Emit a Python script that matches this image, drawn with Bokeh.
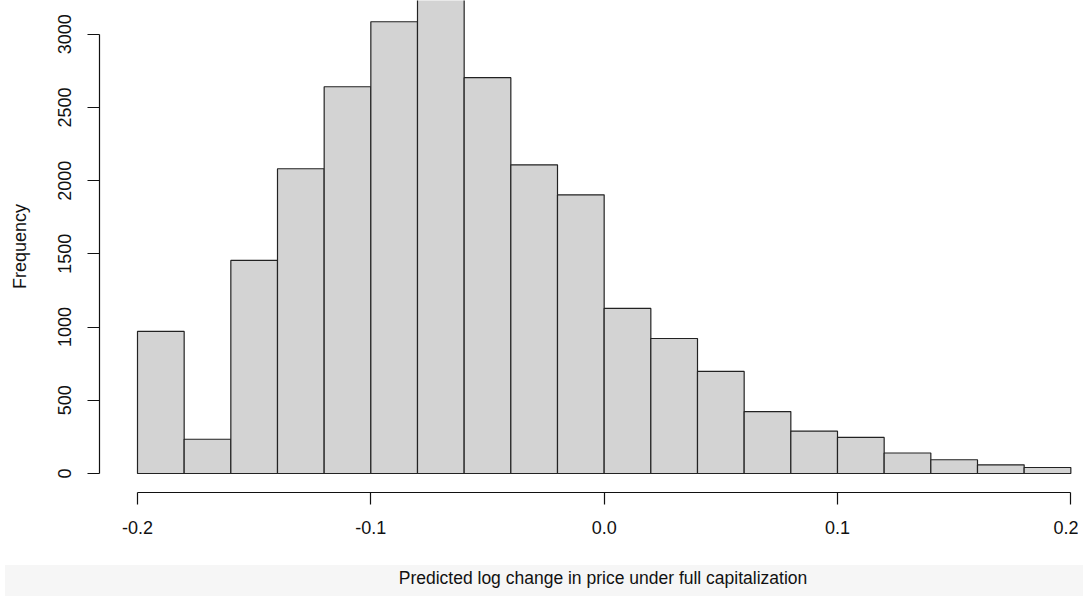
from bokeh.plotting import figure
from bokeh.models import FixedTicker, Div, ColumnDataSource, Range1d
from bokeh.layouts import column
from bokeh.embed import file_html
from bokeh.resources import INLINE

# ---- data ----
bin_edges = [-0.20, -0.18, -0.16, -0.14, -0.12, -0.10, -0.08, -0.06, -0.04, -0.02,
             0.00, 0.02, 0.04, 0.06, 0.08, 0.10, 0.12, 0.14, 0.16, 0.18, 0.20]
counts = [970, 234, 1455, 2081, 2641, 3085, 3300, 2703, 2108, 1903,
          1127, 922, 697, 423, 289, 246, 140, 94, 59, 41]
x_ticks = [-0.2, -0.1, 0.0, 0.1, 0.2]
x_tick_labels = ["-0.2", "-0.1", "0.0", "0.1", "0.2"]
y_ticks = [0, 500, 1000, 1500, 2000, 2500, 3000]
x_title = "Predicted log change in price under full capitalization"
y_title = "Frequency"

FONT = "Liberation Sans"

src = ColumnDataSource(dict(left=bin_edges[:-1], right=bin_edges[1:], top=counts,
                            bottom=[0] * len(counts)))

p = figure(width=1078, height=560, output_backend="svg", toolbar_location=None,
           x_range=Range1d(-0.216286, 0.203286), y_range=Range1d(-129.8, 3230.1),
           min_border_left=99, min_border_right=0, min_border_top=0, min_border_bottom=68)
p.outline_line_color = None
p.grid.visible = False
p.background_fill_color = "white"
p.border_fill_color = "white"

p.quad(left="left", right="right", top="top", bottom="bottom", source=src,
       fill_color="#d3d3d3", line_color="#222222", line_width=1.2)

xa = p.xaxis[0]
xa.ticker = FixedTicker(ticks=x_ticks)
xa.major_label_overrides = {t: l for t, l in zip(x_ticks, x_tick_labels)}
xa.bounds = (x_ticks[0], x_ticks[-1])
ya = p.yaxis[0]
ya.ticker = FixedTicker(ticks=y_ticks)
ya.bounds = (y_ticks[0], y_ticks[-1])
ya.major_label_orientation = "vertical"
ya.axis_label = y_title

for ax in (xa, ya):
    ax.axis_line_color = "#111111"
    ax.axis_line_width = 1.2
    ax.major_tick_line_color = "#111111"
    ax.major_tick_line_width = 1.2
    ax.major_tick_in = 0
    ax.major_tick_out = 12
    ax.minor_tick_line_color = None
    ax.major_label_text_font = FONT
    ax.major_label_text_font_size = "18px"
    ax.major_label_text_color = "#111111"
    ax.axis_label_text_font = FONT
    ax.axis_label_text_font_size = "18px"
    ax.axis_label_text_font_style = "normal"
    ax.axis_label_text_color = "#111111"

xa.major_label_standoff = 16
ya.major_label_standoff = 16
ya.axis_label_standoff = 26

band = Div(
    text=('<div style="width:1078px;padding-left:118px;padding-top:3px;box-sizing:border-box;'
          'text-align:center;font-family:\'Liberation Sans\';font-size:17.5px;'
          'line-height:20px;color:#111111;">' + x_title + '</div>'),
    width=1078, height=36,
    styles={"background-color": "#f6f6f6"},
)

layout = column(p, band, spacing=0)
open("out.html", "w").write(file_html(layout, INLINE))
